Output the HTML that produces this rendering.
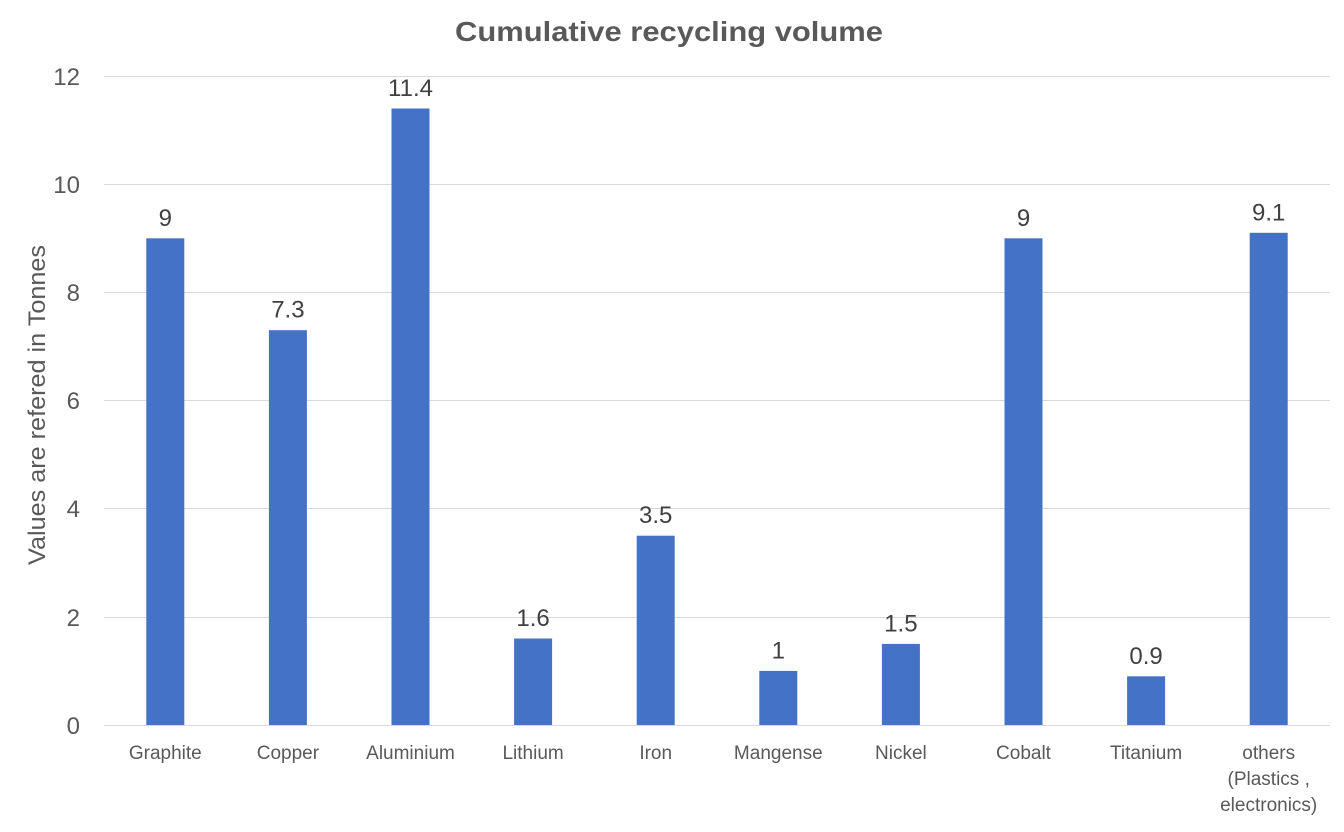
<!DOCTYPE html>
<html>
<head>
<meta charset="utf-8">
<style>
  html,body{margin:0;padding:0;background:#fff;}
  svg{display:block;}
  text{font-family:"Liberation Sans",Arial,sans-serif;}
</style>
</head>
<body>
<svg width="1344" height="832" viewBox="0 0 1344 832" xmlns="http://www.w3.org/2000/svg">
  <rect x="0" y="0" width="1344" height="832" fill="#ffffff"/>
  <!-- title -->
  <text x="669" y="41" text-anchor="middle" font-size="28" font-weight="bold" fill="#595959" textLength="428" lengthAdjust="spacingAndGlyphs">Cumulative recycling volume</text>

  <!-- gridlines -->
  <g stroke="#d9d9d9" stroke-width="1" shape-rendering="crispEdges">
    <line x1="104" x2="1330" y1="76.5" y2="76.5"/>
    <line x1="104" x2="1330" y1="184.5" y2="184.5"/>
    <line x1="104" x2="1330" y1="292.5" y2="292.5"/>
    <line x1="104" x2="1330" y1="400.5" y2="400.5"/>
    <line x1="104" x2="1330" y1="508.5" y2="508.5"/>
    <line x1="104" x2="1330" y1="617.5" y2="617.5"/>
    <line x1="104" x2="1330" y1="725.5" y2="725.5"/>
  </g>

  <!-- y tick labels -->
  <g font-size="24" fill="#595959" text-anchor="end">
    <text x="80" y="85">12</text>
    <text x="80" y="193">10</text>
    <text x="80" y="301">8</text>
    <text x="80" y="409">6</text>
    <text x="80" y="517">4</text>
    <text x="80" y="626">2</text>
    <text x="80" y="734">0</text>
  </g>

  <!-- y axis title -->
  <text transform="translate(45,405) rotate(-90)" text-anchor="middle" font-size="24" fill="#595959" textLength="320" lengthAdjust="spacingAndGlyphs">Values are refered in Tonnes</text>

  <!-- bars -->
  <g fill="#4472c4">
    <rect x="146.3" y="238.3" width="38" height="486.7"/>
    <rect x="268.9" y="330.2" width="38" height="394.8"/>
    <rect x="391.5" y="108.5" width="38" height="616.5"/>
    <rect x="514.1" y="638.5" width="38" height="86.5"/>
    <rect x="636.7" y="535.7" width="38" height="189.3"/>
    <rect x="759.3" y="670.9" width="38" height="54.1"/>
    <rect x="881.9" y="643.9" width="38" height="81.1"/>
    <rect x="1004.5" y="238.3" width="38" height="486.7"/>
    <rect x="1127.1" y="676.3" width="38" height="48.7"/>
    <rect x="1249.7" y="232.8" width="38" height="492.2"/>
  </g>

  <!-- data labels -->
  <g font-size="24" fill="#404040" text-anchor="middle">
    <text x="165.3" y="225.8">9</text>
    <text x="287.9" y="317.7">7.3</text>
    <text x="410.5" y="96">11.4</text>
    <text x="533.1" y="626">1.6</text>
    <text x="655.7" y="523.2">3.5</text>
    <text x="778.3" y="658.4">1</text>
    <text x="900.9" y="631.4">1.5</text>
    <text x="1023.5" y="225.8">9</text>
    <text x="1146.1" y="663.8">0.9</text>
    <text x="1268.7" y="220.3">9.1</text>
  </g>

  <!-- category labels -->
  <g font-size="19" fill="#595959" text-anchor="middle">
    <text x="165.3" y="759">Graphite</text>
    <text x="287.9" y="759">Copper</text>
    <text x="410.5" y="759">Aluminium</text>
    <text x="533.1" y="759">Lithium</text>
    <text x="655.7" y="759">Iron</text>
    <text x="778.3" y="759">Mangense</text>
    <text x="900.9" y="759">Nickel</text>
    <text x="1023.5" y="759">Cobalt</text>
    <text x="1146.1" y="759">Titanium</text>
    <text x="1268.7" y="759">others</text>
    <text x="1268.7" y="785">(Plastics ,</text>
    <text x="1268.7" y="811">electronics)</text>
  </g>
</svg>
</body>
</html>
